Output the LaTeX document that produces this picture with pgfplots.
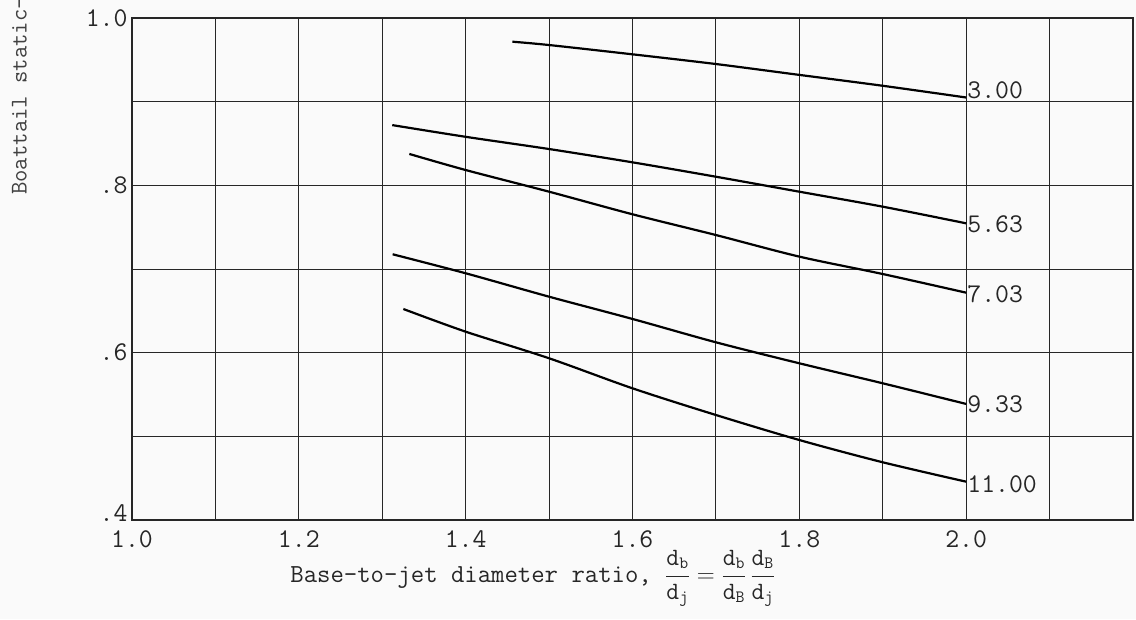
\documentclass[border=0pt]{standalone}
\usepackage{pgfplots}
\pgfplotsset{compat=1.18}
\definecolor{paper}{RGB}{250,250,250}
\begin{document}
\begin{tikzpicture}[font=\ttfamily\fontsize{27}{32}\selectfont]
\useasboundingbox[fill=paper] (-132pt,-99pt) rectangle (1004pt,520pt);
\begin{axis}[
  at={(0pt,0pt)}, anchor=south west,
  scale only axis, width=1001pt, height=502pt,
  xmin=1, xmax=2.2, ymin=0.4, ymax=1.0,
  xtick={1.0,1.1,1.2,1.3,1.4,1.5,1.6,1.7,1.8,1.9,2.0,2.1,2.2},
  xticklabels={1.0,,1.2,,1.4,,1.6,,1.8,,2.0,,},
  ytick={0.5,0.6,0.7,0.8,0.9,1.0},
  yticklabels={,.6,,.8,,1.0},
  extra y ticks={0.4},
  extra y tick labels={.4},
  extra y tick style={yticklabel style={yshift=7pt}},
  grid=major, grid style={black!85, line width=1pt},
  axis line style={black!85, line width=1.2pt},
  major tick length=0pt,
  tick label style={font=\ttfamily\fontsize{27}{32}\selectfont, text=black!85},
  xticklabel style={yshift=-7pt},
  yticklabel style={xshift=-1pt},
  xlabel={Base-to-jet diameter ratio, $\displaystyle\frac{\mathtt{d}_{\mathtt{b}}}{\mathtt{d}_{\mathtt{j}}} = \frac{\mathtt{d}_{\mathtt{b}}}{\mathtt{d}_{\mathtt{B}}}\,\frac{\mathtt{d}_{\mathtt{B}}}{\mathtt{d}_{\mathtt{j}}}$},
  xlabel style={at={(rel axis cs:0.158,0)}, anchor=base west, yshift=-62pt, inner sep=0pt, text=black!85, font=\ttfamily\fontsize{26}{30}\selectfont},
  clip=false,
]
% 3.00
\addplot[black, line width=2.2pt, smooth, tension=0.5] coordinates {
 (1.456,0.9717) (1.5,0.9677) (1.6,0.9566) (1.7,0.945) (1.8,0.932) (1.9,0.919) (2.0,0.905)};
% 5.63
\addplot[black, line width=2.2pt, smooth, tension=0.5] coordinates {
 (1.312,0.872) (1.4,0.858) (1.5,0.8434) (1.6,0.8275) (1.7,0.8103) (1.8,0.7924) (1.9,0.7745) (2.0,0.7546)};
% 7.03
\addplot[black, line width=2.2pt, smooth, tension=0.5] coordinates {
 (1.3325,0.8375) (1.4,0.8183) (1.5,0.7924) (1.6,0.7654) (1.7,0.7406) (1.8,0.7148) (1.9,0.694) (2.0,0.6717)};
% 9.33
\addplot[black, line width=2.2pt, smooth, tension=0.5] coordinates {
 (1.3125,0.7176) (1.4,0.6949) (1.5,0.6669) (1.6,0.6403) (1.7,0.6124) (1.8,0.5873) (1.9,0.5634) (2.0,0.5387)};
% 11.00
\addplot[black, line width=2.2pt, smooth, tension=0.5] coordinates {
 (1.3253,0.6522) (1.4,0.6251) (1.5,0.5933) (1.6,0.5574) (1.7,0.5255) (1.8,0.4956) (1.9,0.469) (2.0,0.4458)};
\node[anchor=west, inner sep=1pt, text=black!85] at (axis cs:2.0,0.914) {3.00};
\node[anchor=west, inner sep=1pt, text=black!85] at (axis cs:2.0,0.754) {5.63};
\node[anchor=west, inner sep=1pt, text=black!85] at (axis cs:2.0,0.670) {7.03};
\node[anchor=west, inner sep=1pt, text=black!85] at (axis cs:2.0,0.538) {9.33};
\node[anchor=west, inner sep=1pt, text=black!85] at (axis cs:2.0,0.443) {11.00};
\end{axis}
\node[rotate=90, anchor=west, inner sep=0pt, font=\ttfamily\fontsize{24}{28}\selectfont, text=black!75] at (-110pt,325pt) {Boattail static-pressure ratio};
\end{tikzpicture}
\end{document}
